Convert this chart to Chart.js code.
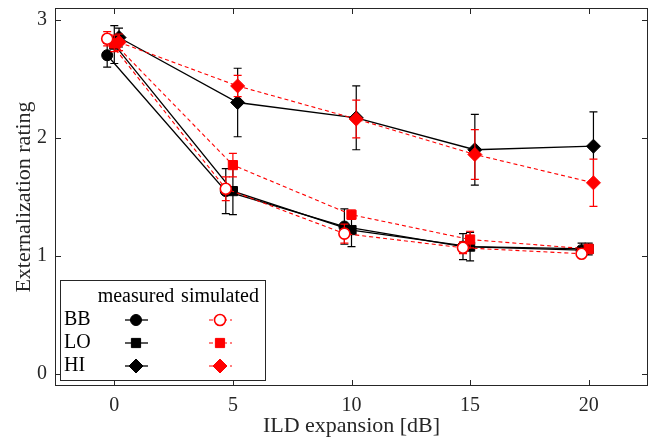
<!DOCTYPE html>
<html>
<head>
<meta charset="utf-8">
<script src="https://cdn.jsdelivr.net/npm/chart.js"></script>
<style>
  html, body { margin: 0; padding: 0; background: #fff; }
  #wrap { width: 660px; height: 442px; }
</style>
</head>
<body>
<div id="wrap"><canvas id="chartILD" width="660" height="442"></canvas></div>
<script>
// ILD expansion steps [dB]; each stimulus group is nudged sideways a little
const ildSteps = [0, 5, 10, 15, 20];
const groups = ['BB', 'LO', 'HI'];
const groupOffset = [-0.3, 0, 0.2];
const xTicks = [0, 5, 10, 15, 20];
const yTicks = [0, 1, 2, 3];

// externalization ratings (mean) and error bar half-lengths
const measuredBB = [2.70, 1.55, 1.25, 1.08, 1.05];
const measuredBBErr = [0.10, 0.19, 0.15, 0.11, 0.06];
const measuredLO = [2.79, 1.55, 1.22, 1.08, 1.06];
const measuredLOErr = [0.16, 0.20, 0.14, 0.12, 0.05];
const measuredHI = [2.85, 2.30, 2.17, 1.90, 1.93];
const measuredHIErr = [0.08, 0.29, 0.27, 0.30, 0.29];

const simulatedBB = [2.84, 1.57, 1.19, 1.07, 1.02];
const simulatedBBErr = [0.06, 0.10, 0.08, 0.05, 0.03];
const simulatedLO = [2.80, 1.77, 1.35, 1.14, 1.06];
const simulatedLOErr = [0.07, 0.10, 0.04, 0.07, 0.04];
const simulatedHI = [2.81, 2.44, 2.16, 1.86, 1.62];
const simulatedHIErr = [0.07, 0.09, 0.16, 0.21, 0.20];

const axisColor = '#262626';
const serif = "'Liberation Serif', 'DejaVu Serif', serif";
const markerStyles = ['circle', 'rect', 'rectRot'];
const markerRadius = [5.5, 6.5, 7];

function points(vals, g) {
    return vals.map((v, i) => ({ x: ildSteps[i] + groupOffset[g], y: v }));
}

function measuredSet(vals, err, g) {
    return {
        label: groups[g] + ' measured',
        data: points(vals, g),
        err: err,
        barColor: '#000',
        showLine: true,
        borderColor: '#000',
        borderWidth: 1.3,
        backgroundColor: '#000',
        pointStyle: markerStyles[g],
        pointRadius: markerRadius[g],
        pointBorderWidth: 1,
        pointBorderColor: '#000',
        pointBackgroundColor: '#000',
        order: 1
    };
}

function simulatedSet(vals, err, g) {
    const open = g === 0;
    return {
        label: groups[g] + ' simulated',
        data: points(vals, g),
        err: err,
        barColor: '#ff0000',
        showLine: true,
        borderColor: '#ff0000',
        borderWidth: 1.1,
        borderDash: [4, 3],
        backgroundColor: '#ff0000',
        pointStyle: markerStyles[g],
        pointRadius: markerRadius[g],
        pointBorderWidth: open ? 1.6 : 1,
        pointBorderColor: '#ff0000',
        pointBackgroundColor: open ? '#fff' : '#ff0000',
        order: 0
    };
}

// vertical error bars with caps, drawn just before each series
const errorBars = {
    id: 'errorBars',
    beforeDatasetDraw(chart, args) {
        const ds = chart.data.datasets[args.index];
        if (!ds.err) return;
        const { ctx, scales: { x, y } } = chart;
        const cap = 4;
        ctx.save();
        ctx.strokeStyle = ds.barColor;
        ctx.lineWidth = 1.2;
        ctx.setLineDash([]);
        ctx.beginPath();
        ds.data.forEach((p, i) => {
            const px = x.getPixelForValue(p.x);
            const top = y.getPixelForValue(p.y + ds.err[i]);
            const bot = y.getPixelForValue(p.y - ds.err[i]);
            ctx.moveTo(px, top); ctx.lineTo(px, bot);
            ctx.moveTo(px - cap, top); ctx.lineTo(px + cap, top);
            ctx.moveTo(px - cap, bot); ctx.lineTo(px + cap, bot);
        });
        ctx.stroke();
        ctx.restore();
    }
};

// boxed axes with inward tick marks on all four sides
const axisBox = {
    id: 'axisBox',
    beforeDatasetsDraw(chart) {
        const { ctx, chartArea: a, scales: { x, y } } = chart;
        const len = 6;
        ctx.save();
        ctx.strokeStyle = axisColor;
        ctx.lineWidth = 1;
        ctx.strokeRect(Math.round(a.left) + 0.5, Math.round(a.top) + 0.5,
            Math.round(a.width) - 1, Math.round(a.height) - 1);
        ctx.beginPath();
        x.ticks.forEach(t => {
            const px = Math.round(x.getPixelForValue(t.value)) + 0.5;
            ctx.moveTo(px, a.bottom); ctx.lineTo(px, a.bottom - len);
            ctx.moveTo(px, a.top); ctx.lineTo(px, a.top + len);
        });
        y.ticks.forEach(t => {
            const py = Math.round(y.getPixelForValue(t.value)) + 0.5;
            ctx.moveTo(a.left, py); ctx.lineTo(a.left + len, py);
            ctx.moveTo(a.right, py); ctx.lineTo(a.right - len, py);
        });
        ctx.stroke();
        ctx.restore();
    }
};

function drawMarker(ctx, style, cx, cy, r, fill, stroke, lw) {
    ctx.beginPath();
    if (style === 'circle') {
        ctx.arc(cx, cy, r, 0, Math.PI * 2);
    } else if (style === 'rect') {
        const h = r * Math.SQRT1_2;
        ctx.rect(cx - h, cy - h, 2 * h, 2 * h);
    } else {
        ctx.moveTo(cx, cy - r); ctx.lineTo(cx + r, cy);
        ctx.lineTo(cx, cy + r); ctx.lineTo(cx - r, cy);
        ctx.closePath();
    }
    ctx.fillStyle = fill;
    ctx.fill();
    ctx.lineWidth = lw;
    ctx.strokeStyle = stroke;
    ctx.stroke();
}

// table-style legend in the lower left corner
const legendTable = {
    id: 'legendTable',
    afterDraw(chart) {
        const { ctx } = chart;
        const box = { left: 60, top: 280, right: 265, bottom: 380 };
        const colMeasured = 136, colSimulated = 220;
        const rowY = [320, 343, 366];
        ctx.save();
        ctx.fillStyle = '#fff';
        ctx.fillRect(box.left, box.top, box.right - box.left, box.bottom - box.top);
        ctx.strokeStyle = axisColor;
        ctx.lineWidth = 1;
        ctx.strokeRect(box.left + 0.5, box.top + 0.5, box.right - box.left, box.bottom - box.top);

        ctx.font = '20px ' + serif;
        ctx.fillStyle = '#000';
        ctx.textBaseline = 'middle';
        ctx.textAlign = 'center';
        ctx.fillText('measured', colMeasured, 297);
        ctx.fillText('simulated', colSimulated, 297);

        groups.forEach((name, g) => {
            const yy = rowY[g];
            ctx.textAlign = 'left';
            ctx.fillStyle = '#000';
            ctx.fillText(name, 64, yy);

            ctx.setLineDash([]);
            ctx.strokeStyle = '#000';
            ctx.lineWidth = 1.3;
            ctx.beginPath();
            ctx.moveTo(colMeasured - 11, yy); ctx.lineTo(colMeasured + 12, yy);
            ctx.stroke();
            drawMarker(ctx, markerStyles[g], colMeasured, yy, markerRadius[g], '#000', '#000', 1);

            ctx.setLineDash([4, 3]);
            ctx.strokeStyle = '#ff0000';
            ctx.lineWidth = 1.1;
            ctx.beginPath();
            ctx.moveTo(colSimulated - 11, yy); ctx.lineTo(colSimulated + 12, yy);
            ctx.stroke();
            ctx.setLineDash([]);
            const open = g === 0;
            drawMarker(ctx, markerStyles[g], colSimulated, yy, markerRadius[g],
                open ? '#fff' : '#ff0000', '#ff0000', open ? 1.6 : 1);
        });
        ctx.restore();
    }
};

new Chart(document.getElementById('chartILD').getContext('2d'), {
    type: 'scatter',
    data: {
        datasets: [
            measuredSet(measuredBB, measuredBBErr, 0),
            measuredSet(measuredLO, measuredLOErr, 1),
            measuredSet(measuredHI, measuredHIErr, 2),
            simulatedSet(simulatedBB, simulatedBBErr, 0),
            simulatedSet(simulatedLO, simulatedLOErr, 1),
            simulatedSet(simulatedHI, simulatedHIErr, 2)
        ]
    },
    options: {
        responsive: false,
        animation: false,
        devicePixelRatio: 1,
        layout: { padding: { top: 5, right: 12, bottom: 0, left: 0 } },
        plugins: { legend: { display: false }, tooltip: { enabled: false } },
        scales: {
            x: {
                type: 'linear',
                min: -2.5,
                max: 22.5,
                afterBuildTicks: s => { s.ticks = xTicks.map(v => ({ value: v })); },
                afterFit: s => { s.height = 56; s.paddingLeft = 0; s.paddingRight = 0; },
                grid: { display: false },
                border: { display: false },
                ticks: { autoSkip: false, maxRotation: 0, padding: 0, color: axisColor,
                    font: { family: serif, size: 20 } },
                title: { display: true, text: 'ILD expansion [dB]', color: axisColor,
                    font: { family: serif, size: 22 }, padding: { top: 0, bottom: 3 } }
            },
            y: {
                type: 'linear',
                min: -0.1,
                max: 3.1,
                afterBuildTicks: s => { s.ticks = yTicks.map(v => ({ value: v })); },
                afterFit: s => { s.width = 55; s.paddingTop = 0; s.paddingBottom = 0; },
                grid: { display: false, drawTicks: false },
                border: { display: false },
                ticks: { padding: 8, color: axisColor, font: { family: serif, size: 20 } },
                title: { display: true, text: 'Externalization rating', color: axisColor,
                    font: { family: serif, size: 22 }, padding: { top: 11, bottom: 0 } }
            }
        }
    },
    plugins: [axisBox, errorBars, legendTable]
});
</script>
</body>
</html>
